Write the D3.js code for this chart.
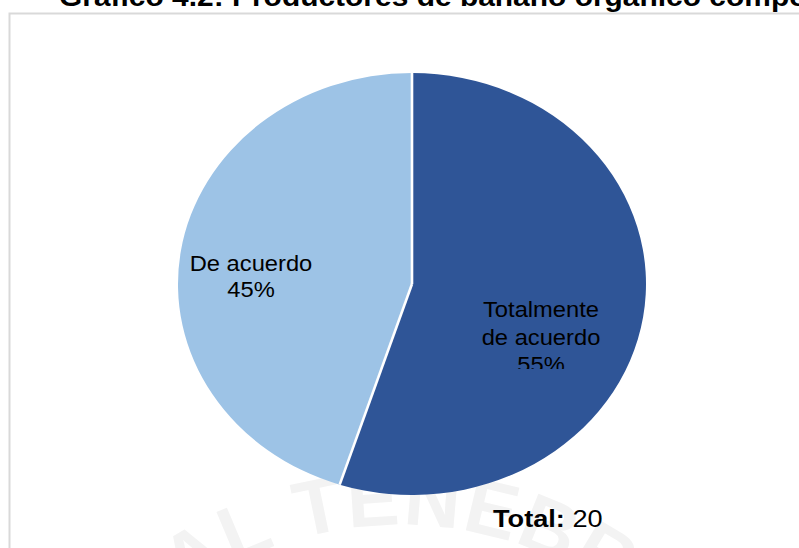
<!DOCTYPE html>
<html>
<head>
<meta charset="utf-8">
<script src="https://cdn.jsdelivr.net/npm/d3@7/dist/d3.min.js"></script>
<style>
html,body{margin:0;padding:0;background:#fff;overflow:hidden;}
svg{display:block;font-family:"Liberation Sans",Arial,sans-serif;}
</style>
</head>
<body>
<svg id="chart" width="799" height="548"></svg>
<script>
// ---- data ----
const categories = ["Totalmente de acuerdo", "De acuerdo"];
const values = [55, 45];
const percentLabels = ["55%", "45%"];
const labelLines = [["Totalmente", "de acuerdo"], ["De acuerdo"]];
const colors = ["#2F5597", "#9DC3E6"];
const titleText = "Gráfico 4.2: Productores de banano orgánico competitivos";
const totalLabel = "Total:";
const totalValue = 20;

// ---- layout ----
const W = 799, H = 548;
const cx = 412, cy = 284, ry = 211, sx = 234 / 211;
const svg = d3.select("#chart");

// frame
svg.append("rect").attr("x", 9.5).attr("y", 13.5).attr("width", 820).attr("height", 560)
  .attr("fill", "none").attr("stroke", "#d9d9d9").attr("stroke-width", 2);

// watermark (faint background seal text)
const wmPath = d3.path();
wmPath.arc(400, 900, 375, -Math.PI / 2 - 0.7, -Math.PI / 2 + 0.7, false);
svg.append("defs").append("path").attr("id", "wmarc").attr("d", wmPath.toString());
svg.append("text").attr("font-size", 78).attr("font-weight", "bold").attr("fill", "#f3f3f3")
  .attr("letter-spacing", 2)
  .append("textPath").attr("href", "#wmarc").attr("startOffset", "50%")
  .attr("text-anchor", "middle")
  .text("AL TENEBR");

// title
svg.append("text").attr("x", 59).attr("y", 6)
  .attr("font-size", 27).attr("font-weight", "bold").attr("fill", "#000")
  .attr("transform", `translate(59,0) scale(${sx},1) translate(-59,0)`)
  .text(titleText);

// pie
const pie = d3.pie().sort(null).value(d => d)(values);
const arc = d3.arc().innerRadius(0).outerRadius(ry);
const g = svg.append("g").attr("transform", `translate(${cx},${cy}) scale(${sx},1)`);
g.selectAll("path.slice").data(pie).join("path").attr("class", "slice")
  .attr("d", arc).attr("fill", (d, i) => colors[i]);
// separators
g.selectAll("line.sep").data(pie).join("line").attr("class", "sep")
  .attr("x1", 0).attr("y1", 0)
  .attr("x2", d => ry * Math.sin(d.startAngle))
  .attr("y2", d => -ry * Math.cos(d.startAngle))
  .attr("stroke", "#fff").attr("stroke-width", 2.6)
  .attr("vector-effect", "non-scaling-stroke");

// labels
const labelPos = [{x: 541, y: 317, dy: 27.5, clip: 369}, {x: 251, y: 271, dy: 26, clip: null}];
const defs = svg.append("defs");
defs.append("clipPath").attr("id", "clipR").append("rect")
  .attr("x", 0).attr("y", 0).attr("width", W).attr("height", labelPos[0].clip);
pie.forEach((d, i) => {
  const p = labelPos[i];
  const lines = labelLines[i].concat([percentLabels[i]]);
  const lg = svg.append("g");
  if (p.clip) lg.attr("clip-path", "url(#clipR)");
  lines.forEach((t, k) => {
    lg.append("text")
      .attr("transform", `translate(${p.x},${p.y + k * p.dy}) scale(${sx},1)`)
      .attr("text-anchor", "middle").attr("font-size", 21.4).attr("fill", "#000")
      .text(t);
  });
});

// total
const tt = svg.append("text").attr("transform", `translate(493,527) scale(${sx},1)`)
  .attr("font-size", 24.5).attr("fill", "#000");
tt.append("tspan").attr("font-weight", "bold").text(totalLabel);
tt.append("tspan").text(" " + totalValue);
</script>
</body>
</html>
